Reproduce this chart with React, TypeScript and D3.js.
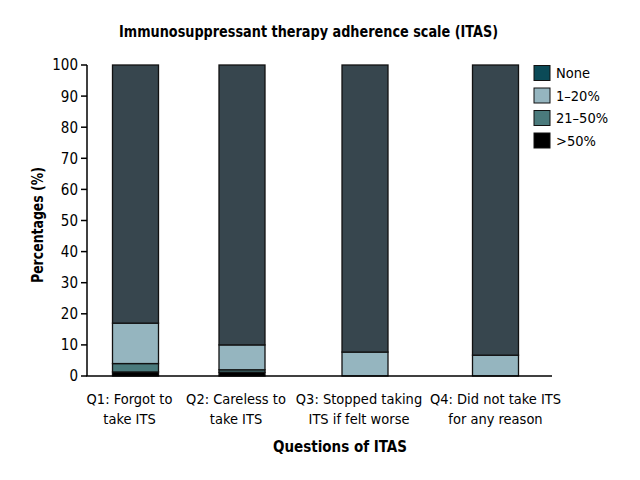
import React from "react";
import * as d3 from "d3";

const categories = [
  ["Q1: Forgot to", "take ITS"],
  ["Q2: Careless to", "take ITS"],
  ["Q3: Stopped taking", "ITS if felt worse"],
  ["Q4: Did not take ITS", "for any reason"],
];
const seriesNames = ["None", "1–20%", "21–50%", ">50%"];
const over50 = [1.3, 1.2, 0, 0];
const pct21to50 = [2.7, 0.8, 0, 0];
const pct1to20 = [13, 8, 7.7, 6.7];
const none = [83, 90, 92.3, 93.3];
const yTicks = [0, 10, 20, 30, 40, 50, 60, 70, 80, 90, 100];

const barColors: Record<string, string> = {
  "None": "#37464e",
  "1–20%": "#95b5bf",
  "21–50%": "#4a7a7c",
  ">50%": "#000000",
};
const legendColors: Record<string, string> = {
  "None": "#0b4a57",
  "1–20%": "#95b5bf",
  "21–50%": "#4a7a7c",
  ">50%": "#000000",
};

const FONT = "'DejaVu Sans', sans-serif";

export default function App() {
  const W = 640, H = 480;
  const y = d3.scaleLinear().domain([0, 100]).range([376, 65]);
  // piecewise position scale for the four question slots
  const x = d3.scaleLinear().domain([0, 1, 2, 3]).range([135.5, 242, 365, 495.5]);
  const barW = 46;
  const stackOrder = [">50%", "21–50%", "1–20%", "None"];
  const valuesBy: Record<string, number[]> = {
    ">50%": over50,
    "21–50%": pct21to50,
    "1–20%": pct1to20,
    "None": none,
  };
  const rows = categories.map((_, i) => {
    const r: any = { i };
    stackOrder.forEach((k) => (r[k] = valuesBy[k][i]));
    return r;
  });
  const stack = d3.stack<any>().keys(stackOrder)(rows);
  const labelX = (i: number) => x(i) + (i === 3 ? 0 : -6);

  return (
    <svg width={W} height={H} style={{ display: "block", position: "absolute", left: 0, top: 0, fontStretch: "condensed" }} fontFamily={FONT}>
      <rect width={W} height={H} fill="#fff" />
      <text x={308.5} y={37} textAnchor="middle" fontSize={16} fontWeight="bold" textLength={379} lengthAdjust="spacingAndGlyphs">
        Immunosuppressant therapy adherence scale (ITAS)
      </text>
      {stack.map((layer) =>
        layer.map((d, i) => {
          const h = y(d[0]) - y(d[1]);
          if (h <= 0) return null;
          return (
            <rect
              key={layer.key + i}
              x={x(i) - barW / 2}
              y={y(d[1])}
              width={barW}
              height={h}
              fill={barColors[layer.key]}
              stroke="#111"
              strokeWidth={1.3}
            />
          );
        })
      )}
      <line x1={87} x2={87} y1={y(100)} y2={y(0)} stroke="#000" strokeWidth={1.5} />
      {yTicks.map((t) => (
        <g key={t}>
          <line x1={81} x2={87} y1={y(t)} y2={y(t)} stroke="#000" strokeWidth={1.5} />
          <text x={78} y={y(t)} dy="0.36em" textAnchor="end" fontSize={15}>
            {t}
          </text>
        </g>
      ))}
      <line x1={86.25} x2={552} y1={y(0)} y2={y(0)} stroke="#000" strokeWidth={1.5} />
      {categories.map((lines, i) => (
        <text key={i} x={labelX(i)} y={404} textAnchor="middle" fontSize={14.5}>
          {lines.map((l, j) => (
            <tspan key={j} x={labelX(i)} dy={j === 0 ? 0 : 20}>
              {l}
            </tspan>
          ))}
        </text>
      ))}
      <text x={340} y={452} textAnchor="middle" fontSize={16} fontWeight="bold" textLength={134} lengthAdjust="spacingAndGlyphs">
        Questions of ITAS
      </text>
      <text transform={`translate(43,225) rotate(-90)`} textAnchor="middle" fontSize={16} fontWeight="bold" textLength={116} lengthAdjust="spacingAndGlyphs">
        Percentages (%)
      </text>
      {seriesNames.map((s, i) => (
        <g key={s} transform={`translate(534,${65.5 + i * 22.5})`}>
          <rect x={0} y={0} width={16} height={15} fill={legendColors[s]} stroke="#111" strokeWidth={1} />
          <text x={22} y={7.5} dy="0.36em" fontSize={14.5}>
            {s}
          </text>
        </g>
      ))}
    </svg>
  );
}
